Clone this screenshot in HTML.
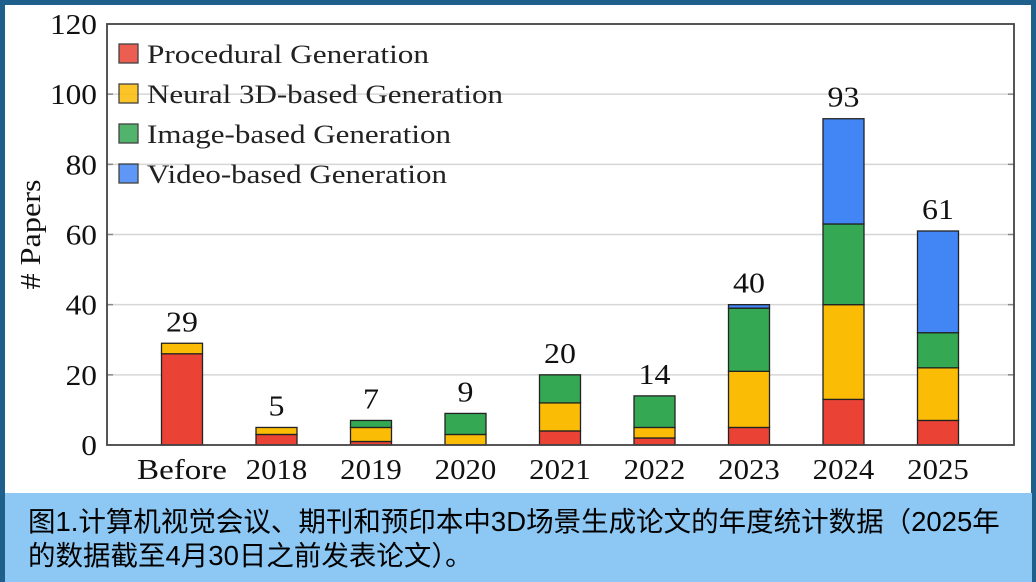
<!DOCTYPE html>
<html><head><meta charset="utf-8">
<style>
html,body{margin:0;padding:0;background:#fff;}
#wrap{position:relative;width:1036px;height:582px;overflow:hidden;background:#fff;}
#frame{position:absolute;left:0;top:0;width:1026px;height:577px;border:5px solid #1f5f8b;border-bottom:none;}
#caption{position:absolute;left:5px;top:493px;width:1027px;height:89px;background:#8cc8f3;font-family:"Liberation Sans","Noto Sans CJK SC",sans-serif;font-size:27.5px;line-height:34px;color:#000;padding:12px 0 0 23px;box-sizing:border-box;white-space:nowrap;}
svg text{font-family:"Liberation Serif",serif;}
</style></head><body>
<div id="wrap">
<div id="frame"></div>
<svg id="chart" width="1036" height="493" style="position:absolute;left:0;top:0"></svg>
<div id="caption">图1.计算机视觉会议、期刊和预印本中3D场景生成论文的年度统计数据（2025年<br>的数据截至4月30日之前发表论文）。</div>
</div>
<script>
const categories=["Before","2018","2019","2020","2021","2022","2023","2024","2025"];
const procedural=[26,3,1,0,4,2,5,13,7];
const neural=[3,2,4,3,8,3,16,27,15];
const imageBased=[0,0,2,6,8,9,18,23,10];
const videoBased=[0,0,0,0,0,0,1,30,29];
const totals=[29,5,7,9,20,14,40,93,61];
const yTicks=[0,20,40,60,80,100,120];
const seriesNames=["Procedural Generation","Neural 3D-based Generation","Image-based Generation","Video-based Generation"];
const colors=["#ea4335","#fbbc05","#34a853","#4285f4"];

const NS="http://www.w3.org/2000/svg";
const svg=document.getElementById('chart');
const L=107,R=1014,T=24,B=445,yMax=120;
function y(v){return B-(v/yMax)*(B-T);}
const step=94.5,first=182;
function xc(i){return first+i*step;}
function mk(tag,attrs,parent){const e=document.createElementNS(NS,tag);for(const k in attrs)e.setAttribute(k,attrs[k]);(parent||svg).appendChild(e);return e;}
function widen(t,f){const w=t.getComputedTextLength();t.setAttribute('textLength',w*f);t.setAttribute('lengthAdjust','spacingAndGlyphs');}

yTicks.forEach(t=>{
  if(t>0&&t<yMax){const g=mk('line',{x1:L,x2:R,y1:y(t),y2:y(t),stroke:'#d6d6d6','stroke-width':1.5});
  
  
  mk('line',{x1:L,x2:L+6,y1:y(t),y2:y(t),stroke:'#888','stroke-width':1.5});
  mk('line',{x1:R-6,x2:R,y1:y(t),y2:y(t),stroke:'#888','stroke-width':1.5});}
  const tx=mk('text',{x:L-10,y:y(t)+10,'text-anchor':'end','font-size':28,fill:'#111'});
  tx.textContent=t;
  
  
  widen(tx,1.12);
});
const yt=mk('text',{x:40,y:(T+B)/2,'text-anchor':'middle','font-size':28,fill:'#111',transform:'rotate(-90 40 '+((T+B)/2)+')'});
yt.textContent='# Papers';


widen(yt,1.15);

const series=[procedural,neural,imageBased,videoBased];
const bw=41;
categories.forEach((c,i)=>{
  let base=0;
  series.forEach((s,k)=>{
    const v=s[i]; if(v<=0)return;
    const r=mk('rect',{x:xc(i)-bw/2,y:y(base+v),width:bw,height:y(base)-y(base+v),fill:colors[k],stroke:'#222','stroke-width':1.3});
    
    
    base+=v;
  });
  const lb=mk('text',{x:xc(i),y:y(totals[i])-12,'text-anchor':'middle','font-size':29,fill:'#111'});
  lb.textContent=totals[i];
  
  
  widen(lb,1.1);
  const xl=mk('text',{x:xc(i),y:B+34,'text-anchor':'middle','font-size':28,fill:'#111'});
  xl.textContent=c;
  
  
  widen(xl,c==='Before'?1.18:1.1);
});
const fr=mk('rect',{x:L,y:T,width:R-L,height:B-T,fill:'none',stroke:'#444','stroke-width':1.8});



const legW=[282,356,304,300];
seriesNames.forEach((n,k)=>{
  const yy=54+k*40;
  const sw=mk('rect',{x:119,y:yy-10,width:19,height:19,fill:colors[k],stroke:'#222','stroke-width':1.3,opacity:0.85});
  
  
  const t=mk('text',{x:147,y:yy+9,'font-size':26,fill:'#222',textLength:legW[k],lengthAdjust:'spacingAndGlyphs'});
  t.textContent=n;
  
  
});
</script>
</body></html>
